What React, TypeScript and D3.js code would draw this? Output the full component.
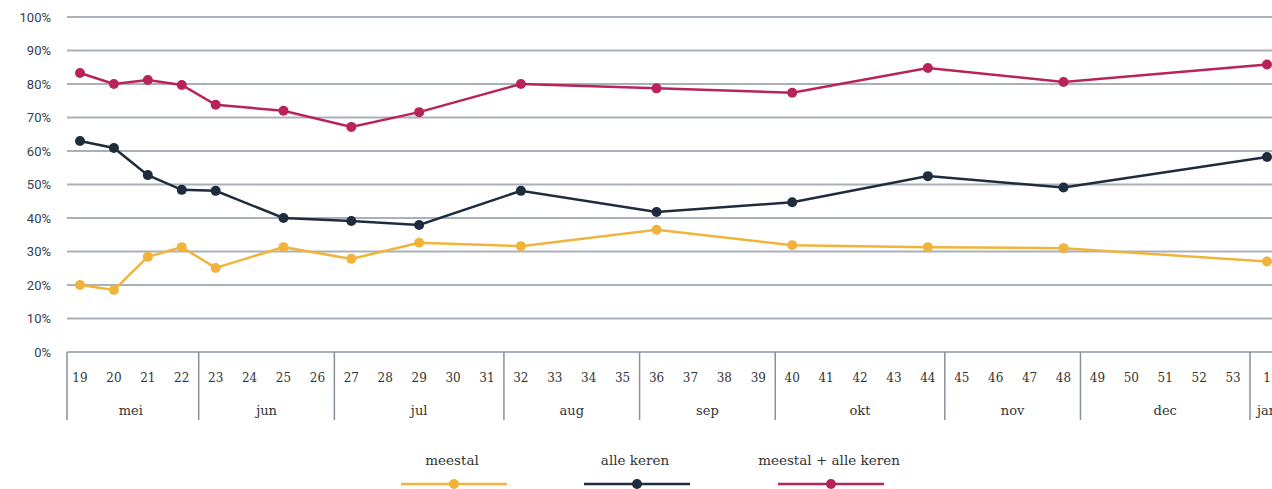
import { useEffect, useRef } from 'react'
import * as d3 from 'd3'

// weeks on the x axis (week 19 of one year up to week 1 of the next)
const WEEKS = ['19','20','21','22','23','24','25','26','27','28','29','30','31','32','33','34','35','36','37','38','39','40','41','42','43','44','45','46','47','48','49','50','51','52','53','1']
const MONTHS = [
  { name: 'mei', from: '19', to: '22' },
  { name: 'jun', from: '23', to: '26' },
  { name: 'jul', from: '27', to: '31' },
  { name: 'aug', from: '32', to: '35' },
  { name: 'sep', from: '36', to: '39' },
  { name: 'okt', from: '40', to: '44' },
  { name: 'nov', from: '45', to: '48' },
  { name: 'dec', from: '49', to: '53' },
  { name: 'jan', from: '1', to: '1' },
]
const Y_TICKS = [0, 10, 20, 30, 40, 50, 60, 70, 80, 90, 100]

// measured weeks
const MEASURED = ['19','20','21','22','23','25','27','29','32','36','40','44','48','1']
const MEESTAL = [20, 18.5, 28.4, 31.3, 25.1, 31.3, 27.8, 32.6, 31.6, 36.5, 31.9, 31.3, 31, 27]
const ALLE_KEREN = [63, 60.9, 52.8, 48.4, 48.1, 40, 39.1, 37.9, 48.1, 41.8, 44.7, 52.5, 49.1, 58.2]
const BEIDE = [83.3, 80, 81.2, 79.7, 73.8, 72, 67.2, 71.6, 80, 78.7, 77.4, 84.8, 80.6, 85.8]

const SERIES = [
  { name: 'meestal', values: MEESTAL, color: '#f0b43c' },
  { name: 'alle keren', values: ALLE_KEREN, color: '#1f2c3d' },
  { name: 'meestal + alle keren', values: BEIDE, color: '#b8245a' },
]

export default function App() {
  const ref = useRef<SVGSVGElement>(null)

  useEffect(() => {
    const svg = d3.select(ref.current)
    svg.selectAll('*').remove()
    const width = 1272
    const left = 67

    const x = d3.scalePoint<string>().domain(WEEKS).range([80, 1267])
    const step = x.step()
    const y = d3.scaleLinear().domain([0, 100]).range([352, 17])

    // grid
    const grid = svg.append('g')
    grid.selectAll('line').data(Y_TICKS).join('line')
      .attr('x1', left).attr('x2', width)
      .attr('y1', d => y(d)).attr('y2', d => y(d))
      .attr('stroke', '#a9b0b8').attr('stroke-width', 2)
    grid.selectAll('text').data(Y_TICKS).join('text')
      .attr('x', 51).attr('y', d => y(d)).attr('dy', '0.35em')
      .attr('text-anchor', 'end')
      .attr('font-family', 'Roboto, "Noto Sans", sans-serif').attr('font-size', 13)
      .attr('fill', '#34414f')
      .text(d => d + '%')

    // x axis table
    const axis = svg.append('g')
    const top = y(0), bottom = 420
    axis.append('line').attr('x1', left).attr('x2', left).attr('y1', top).attr('y2', bottom)
      .attr('stroke', '#8a9098').attr('stroke-width', 1.5)
    axis.selectAll('line.sep').data(MONTHS.slice(1)).join('line').attr('class', 'sep')
      .attr('x1', d => (x(d.from) as number) - step / 2)
      .attr('x2', d => (x(d.from) as number) - step / 2)
      .attr('y1', top).attr('y2', bottom)
      .attr('stroke', '#8a9098').attr('stroke-width', 1.5)
    axis.selectAll('text.wk').data(WEEKS).join('text').attr('class', 'wk')
      .attr('x', d => x(d) as number).attr('y', 382)
      .attr('text-anchor', 'middle')
      .attr('font-family', '"DejaVu Serif", serif').attr('font-size', 12)
      .attr('fill', '#333')
      .text(d => d)
    axis.selectAll('text.mo').data(MONTHS).join('text').attr('class', 'mo')
      .attr('x', d => ((x(d.from) as number) + (x(d.to) as number)) / 2)
      .attr('y', 415)
      .attr('text-anchor', 'middle')
      .attr('font-family', '"DejaVu Serif", serif').attr('font-size', 13)
      .attr('fill', '#333')
      .text(d => d.name)

    // series
    const line = d3.line<number>()
      .x((_, i) => x(MEASURED[i]) as number)
      .y(d => y(d))
    SERIES.forEach(s => {
      const g = svg.append('g')
      g.append('path').attr('d', line(s.values))
        .attr('fill', 'none').attr('stroke', s.color).attr('stroke-width', 2.5)
      g.selectAll('circle').data(s.values).join('circle')
        .attr('cx', (_, i) => x(MEASURED[i]) as number)
        .attr('cy', d => y(d))
        .attr('r', 5)
        .attr('fill', s.color)
    })

    // legend
    const legendX = d3.scaleOrdinal<string, number>()
      .domain(SERIES.map(s => s.name)).range([454, 637, 831])
    const lg = svg.append('g')
    SERIES.forEach(s => {
      const cx = legendX(s.name)
      lg.append('text').attr('x', cx - 2).attr('y', 465)
        .attr('text-anchor', 'middle')
        .attr('font-family', '"DejaVu Serif", serif').attr('font-size', 13.5)
        .attr('fill', '#333').text(s.name)
      lg.append('line').attr('x1', cx - 53).attr('x2', cx + 53)
        .attr('y1', 484).attr('y2', 484)
        .attr('stroke', s.color).attr('stroke-width', 2.5)
      lg.append('circle').attr('cx', cx).attr('cy', 484).attr('r', 5).attr('fill', s.color)
    })
  }, [])

  return (
    <svg ref={ref} width={1272} height={489}
      style={{ position: 'absolute', left: 0, top: 0, background: '#fff' }} />
  )
}
